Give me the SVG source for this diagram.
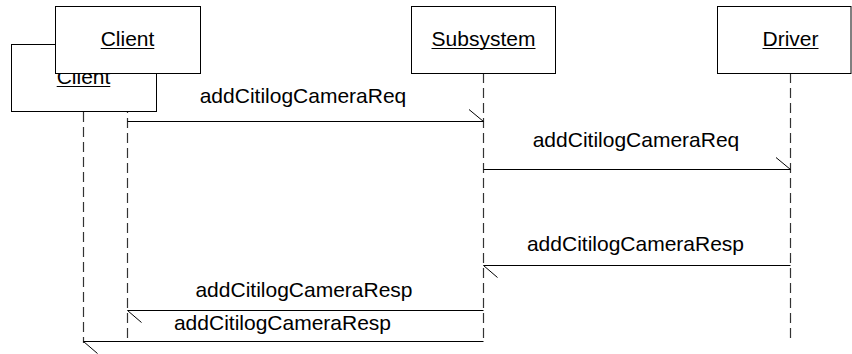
<svg xmlns="http://www.w3.org/2000/svg" width="852" height="354" viewBox="0 0 852 354">
<style>
.box{fill:#fff;stroke:#000;stroke-width:1}
.life{stroke:#333;stroke-width:1.2;stroke-dasharray:10 5;fill:none}
.msg{stroke:#000;stroke-width:1;fill:none}
.ul{stroke:#000;stroke-width:1}
text{font-family:"Liberation Sans",Arial,sans-serif;font-size:21px;fill:#000}
.c{text-anchor:middle}
</style>
<rect width="852" height="354" fill="#fff"/>
<g id="lifelines">
<line class="life" x1="83.5" y1="112" x2="83.5" y2="343"/>
<line class="life" x1="127.5" y1="73" x2="127.5" y2="343"/>
<line class="life" x1="483.5" y1="73" x2="483.5" y2="343"/>
<line class="life" x1="790.5" y1="73" x2="790.5" y2="343"/>
</g>
<g id="client2">
<rect class="box" x="11.5" y="44.5" width="145" height="67"/>
<text class="c" x="83.5" y="84">Client</text>
<line class="ul" x1="56.7" y1="86.5" x2="110.3" y2="86.5"/>
</g>
<g id="client">
<rect class="box" x="55.5" y="6.5" width="145" height="67"/>
<text class="c" x="127.5" y="46">Client</text>
<line class="ul" x1="100.7" y1="48.5" x2="154.3" y2="48.5"/>
</g>
<g id="subsystem">
<rect class="box" x="411.5" y="6.5" width="144" height="67"/>
<text class="c" x="483.5" y="46">Subsystem</text>
<line class="ul" x1="431.5" y1="48.5" x2="535.5" y2="48.5"/>
</g>
<g id="driver">
<rect class="box" x="717.5" y="6.5" width="133.5" height="67"/>
<text class="c" x="790.5" y="46">Driver</text>
<line class="ul" x1="762.5" y1="48.5" x2="818.5" y2="48.5"/>
</g>
<g id="connectors">
<path class="msg" d="M127.5 121.5H483.5M469 109.5L483.5 121.5"/>
<text class="c" x="303" y="103">addCitilogCameraReq</text>
<path class="msg" d="M483.5 169.5H790.5M776 157.5L790.5 169.5"/>
<text class="c" x="636" y="147">addCitilogCameraReq</text>
<path class="msg" d="M790.5 265.5H483.5M483.5 265.5L497.5 277.5"/>
<text class="c" x="635.5" y="251">addCitilogCameraResp</text>
<path class="msg" d="M483.5 310.5H127.5M127.5 310.5L141.5 322.5"/>
<text class="c" x="304" y="297">addCitilogCameraResp</text>
<path class="msg" d="M483.5 341.5H83.5M83.5 341.5L97.5 353.5"/>
<text class="c" x="282.5" y="330">addCitilogCameraResp</text>
</g>
</svg>
